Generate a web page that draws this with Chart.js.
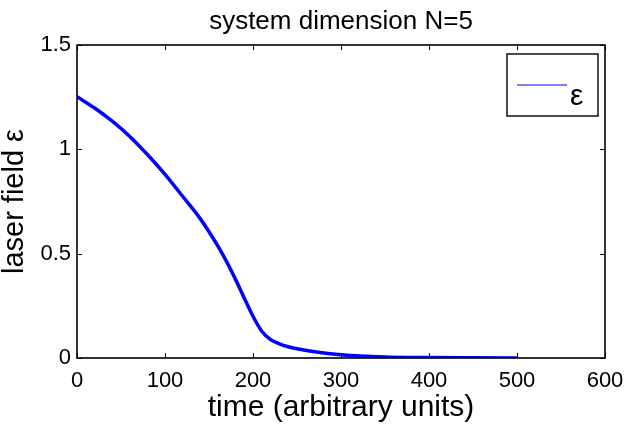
<!DOCTYPE html>
<html><head><meta charset="utf-8">
<script src="https://cdn.jsdelivr.net/npm/chart.js@4.4.1/dist/chart.umd.min.js"></script>
<style>html,body{margin:0;padding:0;background:#fff;}</style>
</head><body>
<canvas id="c" width="625" height="426"></canvas>
<script>
// ---- data ----
const times = [0, 20, 40, 60, 80, 100, 120, 140, 150, 160, 170, 180, 190, 200, 210, 220, 230, 240, 250, 270, 300, 350, 400, 450, 500];
const fieldValues = [1.252, 1.198, 1.135, 1.062, 0.975, 0.880, 0.775, 0.668, 0.605, 0.537, 0.462, 0.378, 0.288, 0.200, 0.128, 0.088, 0.068, 0.054, 0.044, 0.030, 0.016, 0.005, 0.002, 0.001, 0.0005];
const xTicks = [0, 100, 200, 300, 400, 500, 600];
const yTicks = [0, 0.5, 1, 1.5];
const xTickLabels = ['0', '100', '200', '300', '400', '500', '600'];
const yTickLabels = ['0', '0.5', '1', '1.5'];
const titleText = 'system dimension N=5';
const xTitle = 'time (arbitrary units)';
const yTitle = 'laser field \u03b5';
const seriesLabel = '\u03b5';

const FONT = "'Liberation Sans', Arial, Helvetica, sans-serif";

const framePlugin = {
  id: 'frameTicks',
  afterDatasetsDraw(chart) {
    const {ctx, chartArea: a, scales: {x, y}} = chart;
    ctx.save();
    ctx.strokeStyle = '#000';
    ctx.lineWidth = 1;
    const L = 5;
    ctx.beginPath();
    xTicks.forEach(v => {
      const px = Math.round(x.getPixelForValue(v)) + 0.5;
      ctx.moveTo(px, a.bottom); ctx.lineTo(px, a.bottom - L);
      ctx.moveTo(px, a.top); ctx.lineTo(px, a.top + L);
    });
    yTicks.forEach(v => {
      const py = Math.round(y.getPixelForValue(v)) + 0.5;
      ctx.moveTo(a.left, py); ctx.lineTo(a.left + L, py);
      ctx.moveTo(a.right, py); ctx.lineTo(a.right - L, py);
    });
    ctx.stroke();
    ctx.lineWidth = 1.6;
    ctx.strokeRect(a.left, a.top, a.right - a.left, a.bottom - a.top);

    // legend box
    const ds = chart.data.datasets[0];
    const bx = 507, by = 54, bw = 91, bh = 62;
    ctx.fillStyle = '#fff';
    ctx.fillRect(bx, by, bw, bh);
    ctx.lineWidth = 1.4;
    ctx.strokeRect(bx, by, bw, bh);
    ctx.strokeStyle = ds.borderColor;
    ctx.lineWidth = 1.2;
    ctx.beginPath();
    ctx.moveTo(517, 85); ctx.lineTo(567, 85);
    ctx.stroke();
    ctx.fillStyle = '#000';
    ctx.font = '30px ' + FONT;
    ctx.textAlign = 'left';
    ctx.textBaseline = 'alphabetic';
    ctx.fillText(ds.label, 570, 105);
    ctx.restore();
  }
};

new Chart(document.getElementById('c'), {
  type: 'line',
  data: {
    datasets: [{
      label: seriesLabel,
      data: times.map((t, i) => ({x: t, y: fieldValues[i]})),
      borderColor: '#0000ff',
      borderWidth: 3.5,
      pointRadius: 0,
      fill: false,
      cubicInterpolationMode: 'monotone'
    }]
  },
  options: {
    responsive: false,
    devicePixelRatio: 1,
    animation: false,
    layout: {padding: {left: 0, right: 20, top: 0, bottom: 0}},
    plugins: {
      legend: {display: false},
      tooltip: {enabled: false},
      title: {
        display: true, text: titleText, fullSize: false, color: '#000',
        font: {family: FONT, size: 26, weight: 'normal', lineHeight: 1.2},
        padding: {top: 6, bottom: 7.8}
      }
    },
    scales: {
      x: {
        type: 'linear', min: 0, max: 600,
        afterBuildTicks: s => { s.ticks = xTicks.map(v => ({value: v})); },
        grid: {display: false, drawTicks: false},
        border: {display: false},
        ticks: {
          color: '#000', font: {family: FONT, size: 22}, padding: 10,
          maxRotation: 0, autoSkip: false,
          callback: (v) => xTickLabels[xTicks.indexOf(v)]
        },
        title: {display: true, text: xTitle, color: '#000',
          font: {family: FONT, size: 30, lineHeight: 1}, padding: {top: 0, bottom: 3}},
        afterFit: s => { s.height = 68; s.paddingLeft = 0; s.paddingRight = 0; }
      },
      y: {
        type: 'linear', min: 0, max: 1.5,
        afterBuildTicks: s => { s.ticks = yTicks.map(v => ({value: v})); },
        grid: {display: false, drawTicks: false},
        border: {display: false},
        ticks: {
          color: '#000', font: {family: FONT, size: 22}, padding: 6,
          autoSkip: false,
          callback: (v) => yTickLabels[yTicks.indexOf(v)]
        },
        title: {display: true, text: yTitle, color: '#000',
          font: {family: FONT, size: 29, lineHeight: 1}, padding: {top: 0, bottom: 0}},
        afterFit: s => { s.width = 77; }
      }
    }
  },
  plugins: [framePlugin]
});
</script>
</body></html>
